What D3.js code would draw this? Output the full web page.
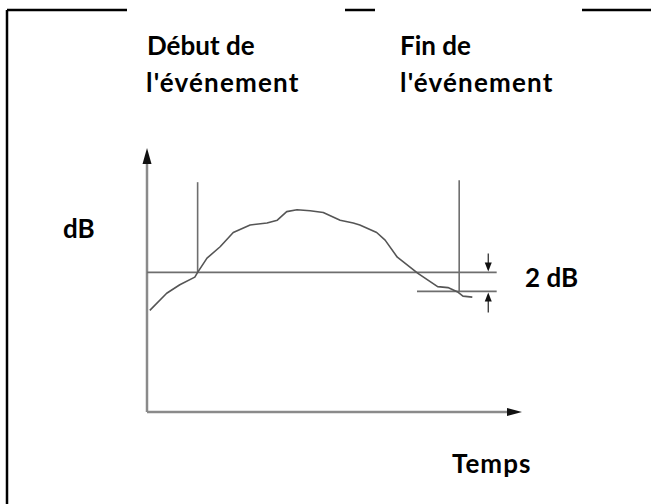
<!DOCTYPE html>
<html>
<head>
<meta charset="utf-8">
<script src="https://cdn.jsdelivr.net/npm/d3@7"></script>
<style>
  body { margin: 0; background: #fff; }
  text { font-family: Lato, "Open Sans", sans-serif; font-weight: bold; fill: #000; }
</style>
</head>
<body>
<svg id="chart" width="651" height="504"></svg>
<script>
// time (s) / level (dB)
const times = [0.3, 2.1, 3.5, 5.1, 5.4, 6.4, 7.8, 9.2, 11.0, 12.8, 13.9, 14.9, 16.0, 17.4, 18.8, 20.6, 22.0, 22.7, 24.5, 25.4, 26.7, 28.9, 31.0, 32.1, 33.2, 33.7, 34.7];
const levels = [10.7, 12.5, 13.4, 14.2, 14.7, 16.2, 17.4, 18.9, 19.7, 19.9, 20.2, 21.1, 21.3, 21.2, 21.0, 20.2, 19.9, 19.7, 18.9, 18.1, 16.3, 14.6, 13.2, 13.1, 12.6, 12.2, 12.1];
const threshold = 14.7;
const lowerLevel = 12.7;        // threshold - 2 dB
const eventStart = 5.4;
const eventEnd = 33.3;
const markerTop = [24.2, 24.4];
const lineEnd = 37.3;
const lowerStart = 28.8;
const gapArrowAt = 36.4;
const labels = ["Début de", "l'événement", "Fin de", "l'événement", "dB", "2 dB", "Temps"];

const svg = d3.select("#chart");

const x = d3.scaleLinear().domain([0, 40]).range([147, 522]);
const y = d3.scaleLinear().domain([0, 27.8]).range([412, 148]);

// frame (only bits of the table border survive)
const frame = svg.append("g").attr("stroke", "#000").attr("stroke-width", 2.5);
frame.append("line").attr("x1", 7).attr("y1", 10).attr("x2", 7).attr("y2", 504);
[[7, 127], [345, 375], [582, 651]].forEach(function (s) {
    frame.append("line").attr("x1", s[0]).attr("y1", 10).attr("x2", s[1]).attr("y2", 10);
});

// axes with arrow heads
const axisColor = "#8a8a8a";
svg.append("line")
    .attr("x1", x(0)).attr("y1", y(0)).attr("x2", x(0)).attr("y2", y(27.8) + 14)
    .attr("stroke", axisColor).attr("stroke-width", 2.5);
svg.append("line")
    .attr("x1", x(0)).attr("y1", y(0)).attr("x2", x(40) - 14).attr("y2", y(0))
    .attr("stroke", axisColor).attr("stroke-width", 2.5);
svg.append("path")
    .attr("d", `M${x(0)},${y(27.8)} L${x(0) - 4.5},${y(27.8) + 16} L${x(0) + 4.5},${y(27.8) + 16}Z`)
    .attr("fill", "#111");
svg.append("path")
    .attr("d", `M${x(40)},${y(0)} L${x(40) - 15},${y(0) - 4} L${x(40) - 15},${y(0) + 4}Z`)
    .attr("fill", "#111");

// threshold lines
const guide = "#6e6e6e";
svg.append("line")
    .attr("x1", x(0)).attr("y1", y(threshold)).attr("x2", x(lineEnd)).attr("y2", y(threshold))
    .attr("stroke", guide).attr("stroke-width", 1.6);
svg.append("line")
    .attr("x1", x(lowerStart)).attr("y1", y(lowerLevel)).attr("x2", x(lineEnd)).attr("y2", y(lowerLevel))
    .attr("stroke", guide).attr("stroke-width", 1.6);

// event markers
svg.append("line")
    .attr("x1", x(eventStart)).attr("y1", y(markerTop[0])).attr("x2", x(eventStart)).attr("y2", y(threshold))
    .attr("stroke", guide).attr("stroke-width", 1.6);
svg.append("line")
    .attr("x1", x(eventEnd)).attr("y1", y(markerTop[1])).attr("x2", x(eventEnd)).attr("y2", y(lowerLevel))
    .attr("stroke", guide).attr("stroke-width", 1.6);

// 2 dB arrows
const ax = x(gapArrowAt);
const yt = y(threshold), yl = y(lowerLevel);
svg.append("line").attr("x1", ax).attr("y1", yt - 19).attr("x2", ax).attr("y2", yt - 8)
    .attr("stroke", "#222").attr("stroke-width", 1.2);
svg.append("path").attr("d", `M${ax},${yt - 1} L${ax - 3.5},${yt - 10} L${ax + 3.5},${yt - 10}Z`).attr("fill", "#111");
svg.append("line").attr("x1", ax).attr("y1", yl + 8).attr("x2", ax).attr("y2", yl + 21)
    .attr("stroke", "#222").attr("stroke-width", 1.2);
svg.append("path").attr("d", `M${ax},${yl + 1} L${ax - 3.5},${yl + 10} L${ax + 3.5},${yl + 10}Z`).attr("fill", "#111");

// level curve
const line = d3.line()
    .x(function (d, i) { return x(times[i]); })
    .y(function (d) { return y(d); });
svg.append("path")
    .datum(levels)
    .attr("d", line)
    .attr("fill", "none")
    .attr("stroke", "#555")
    .attr("stroke-width", 1.6)
    .attr("stroke-linejoin", "round");

// labels
const fs = 26;
svg.append("text").attr("x", 147).attr("y", 55).attr("font-size", fs).text(labels[0]);
svg.append("text").attr("x", 146).attr("y", 92).attr("font-size", fs)
    .attr("letter-spacing", 1.2).text(labels[1]);
svg.append("text").attr("x", 400).attr("y", 55).attr("font-size", fs).text(labels[2]);
svg.append("text").attr("x", 400).attr("y", 92).attr("font-size", fs)
    .attr("letter-spacing", 1.2).text(labels[3]);
svg.append("text").attr("x", 63).attr("y", 238).attr("font-size", fs).text(labels[4]);
svg.append("text").attr("x", 525).attr("y", 287).attr("font-size", fs).text(labels[5]);
svg.append("text").attr("x", 452).attr("y", 473).attr("font-size", fs)
    .attr("letter-spacing", 1).text(labels[6]);
</script>
</body>
</html>
